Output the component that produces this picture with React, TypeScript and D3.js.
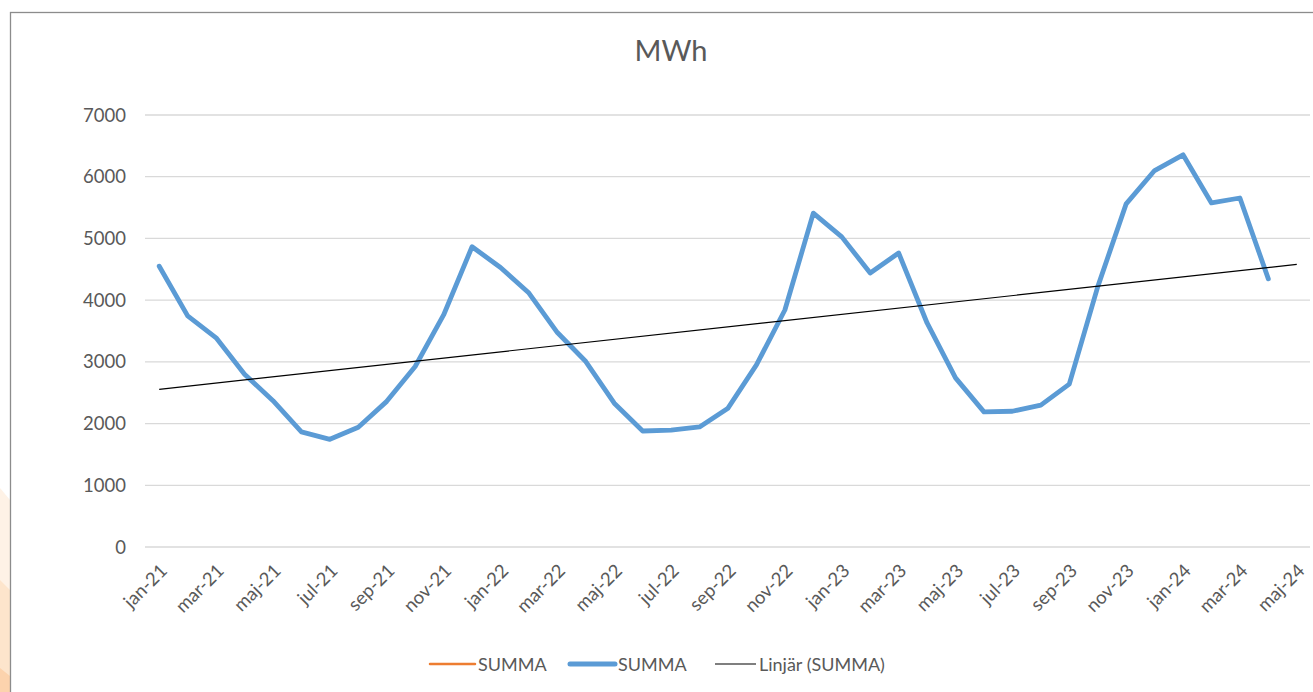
import React, { useEffect, useRef } from 'react';
import * as d3 from 'd3';

// month categories on the x axis (jan-21 .. maj-24)
const categories = [
  'jan-21', 'feb-21', 'mar-21', 'apr-21', 'maj-21', 'jun-21', 'jul-21', 'aug-21', 'sep-21', 'okt-21', 'nov-21', 'dec-21',
  'jan-22', 'feb-22', 'mar-22', 'apr-22', 'maj-22', 'jun-22', 'jul-22', 'aug-22', 'sep-22', 'okt-22', 'nov-22', 'dec-22',
  'jan-23', 'feb-23', 'mar-23', 'apr-23', 'maj-23', 'jun-23', 'jul-23', 'aug-23', 'sep-23', 'okt-23', 'nov-23', 'dec-23',
  'jan-24', 'feb-24', 'mar-24', 'apr-24', 'maj-24',
];

// labels actually shown (every second month)
const tickLabels = [
  'jan-21', 'mar-21', 'maj-21', 'jul-21', 'sep-21', 'nov-21',
  'jan-22', 'mar-22', 'maj-22', 'jul-22', 'sep-22', 'nov-22',
  'jan-23', 'mar-23', 'maj-23', 'jul-23', 'sep-23', 'nov-23',
  'jan-24', 'mar-24', 'maj-24',
];

// SUMMA (MWh), jan-21 .. apr-24
const summa = [
  4550, 3745, 3390, 2800, 2370, 1865, 1745, 1940, 2360, 2925, 3760, 4865,
  4530, 4115, 3475, 3005, 2330, 1880, 1895, 1945, 2250, 2950, 3840, 5410,
  5025, 4440, 4765, 3630, 2740, 2190, 2200, 2300, 2640, 4215, 5560, 6100,
  6355, 5575, 5655, 4345,
];

const yTicks = [0, 1000, 2000, 3000, 4000, 5000, 6000, 7000];

const legendItems = [
  { label: 'SUMMA', color: '#ED7D31', width: 2.5 },
  { label: 'SUMMA', color: '#5B9BD5', width: 5 },
  { label: 'Linjär (SUMMA)', color: '#000000', width: 1.2 },
];

const App = () => {
  const chartRef = useRef(null);

  useEffect(() => {
    document.body.style.margin = '0';
    d3.select(chartRef.current).selectAll('*').remove();

    const W = 1313;
    const H = 692;
    const font = 'Lato, "Open Sans", sans-serif';
    const textColor = '#595959';

    const svg = d3
      .select(chartRef.current)
      .append('svg')
      .attr('width', W)
      .attr('height', H)
      .style('display', 'block');

    // slide background bits left of the chart frame
    svg.append('rect').attr('x', 0).attr('y', 0).attr('width', W).attr('height', H).attr('fill', '#ffffff');
    svg.append('polygon').attr('points', '0,488 10,500 10,692 0,692').attr('fill', '#fef2e6');
    svg.append('polygon').attr('points', '0,580 10,590 10,692 0,692').attr('fill', '#fde5cc');
    svg.append('polygon').attr('points', '0,668 10,676 10,692 0,692').attr('fill', '#fcd3ad');

    // chart frame
    svg.append('rect')
      .attr('x', 10.5).attr('y', 12.5)
      .attr('width', W + 20).attr('height', H + 20)
      .attr('fill', '#ffffff')
      .attr('stroke', '#8c8c8c')
      .attr('stroke-width', 1.3);

    const x = d3.scalePoint().domain(categories).range([145, 1311]).padding(0.5);
    const y = d3.scaleLinear().domain([0, 7000]).range([547, 115]);

    // gridlines
    svg.append('g')
      .selectAll('line')
      .data(yTicks)
      .enter()
      .append('line')
      .attr('x1', 145)
      .attr('x2', 1310)
      .attr('y1', (d) => y(d))
      .attr('y2', (d) => y(d))
      .attr('stroke', '#d9d9d9')
      .attr('stroke-width', 1.3);

    // y labels
    svg.append('g')
      .selectAll('text')
      .data(yTicks)
      .enter()
      .append('text')
      .text((d) => d)
      .attr('x', 126)
      .attr('y', (d) => y(d) + 6.5)
      .attr('text-anchor', 'end')
      .attr('font-family', font)
      .attr('font-size', '18.5px')
      .attr('fill', textColor);

    // x labels
    svg.append('g')
      .selectAll('text')
      .data(tickLabels)
      .enter()
      .append('text')
      .text((d) => d)
      .attr('text-anchor', 'end')
      .attr('transform', (d) => `translate(${x(d) + 9}, ${y(0) + 25}) rotate(-45)`)
      .attr('font-family', font)
      .attr('font-size', '18.5px')
      .attr('fill', textColor);

    // linear trend (least squares), extended one period forward
    const n = summa.length;
    const mx = d3.mean(summa, (_, i) => i);
    const my = d3.mean(summa);
    let sxy = 0;
    let sxx = 0;
    summa.forEach((v, i) => {
      sxy += (i - mx) * (v - my);
      sxx += (i - mx) * (i - mx);
    });
    const slope = sxy / sxx;
    const icpt = my - slope * mx;

    // data line
    const line = d3
      .line()
      .x((d, i) => x(categories[i]))
      .y((d) => y(d));

    svg.append('path')
      .datum(summa)
      .attr('d', line)
      .attr('fill', 'none')
      .attr('stroke', '#5B9BD5')
      .attr('stroke-width', 4.8)
      .attr('stroke-linejoin', 'round')
      .attr('stroke-linecap', 'round');

    svg.append('line')
      .attr('x1', x(categories[0]))
      .attr('y1', y(icpt))
      .attr('x2', x(categories[n]))
      .attr('y2', y(icpt + slope * n))
      .attr('stroke', '#000000')
      .attr('stroke-width', 1.2);

    // title
    svg.append('text')
      .text('MWh')
      .attr('x', 671)
      .attr('y', 61)
      .attr('text-anchor', 'middle')
      .attr('font-family', font)
      .attr('font-size', '29px')
      .attr('fill', textColor);

    // legend
    const legendX = [430, 570, 715];
    const legend = svg.append('g')
      .selectAll('g')
      .data(legendItems)
      .enter()
      .append('g')
      .attr('transform', (d, i) => `translate(${legendX[i]}, 664)`);

    legend.append('line')
      .attr('x1', 0)
      .attr('x2', (d, i) => (i === 2 ? 41 : 45))
      .attr('y1', 0)
      .attr('y2', 0)
      .attr('stroke', (d) => d.color)
      .attr('stroke-width', (d) => d.width)
      .attr('stroke-linecap', (d, i) => (i === 2 ? 'butt' : 'round'));

    legend.append('text')
      .text((d) => d.label)
      .attr('x', (d, i) => (i === 2 ? 44 : 48))
      .attr('y', 6.5)
      .attr('font-family', font)
      .attr('font-size', '18px')
      .attr('fill', textColor);
  }, []);

  return <div ref={chartRef}></div>;
};

export default App;
